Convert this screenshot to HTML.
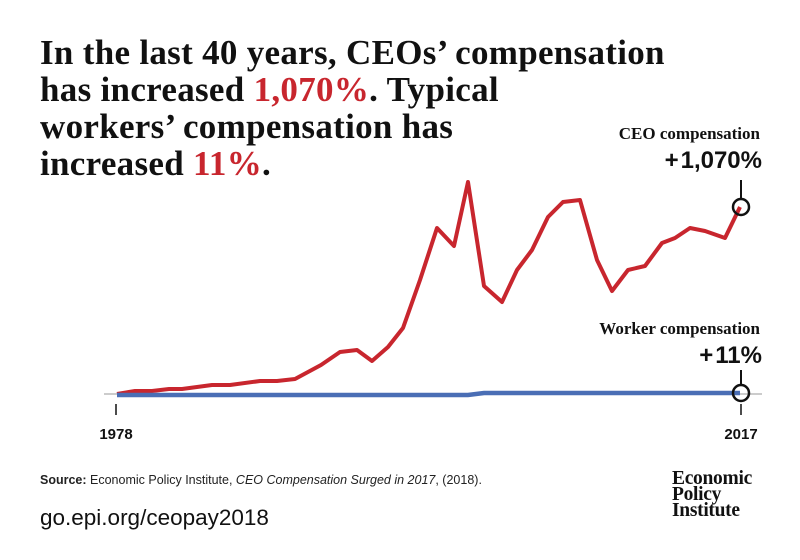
<!DOCTYPE html>
<html><head><meta charset="utf-8"><style>
body{margin:0;width:800px;height:560px;background:#fff;overflow:hidden;position:relative;font-family:"Liberation Sans",sans-serif}
.t{position:absolute;left:40px;top:34px;font-family:"Liberation Serif",serif;font-weight:bold;font-size:35px;line-height:37px;color:#111;letter-spacing:0.3px}
.r{color:#c8262e}
.lab{position:absolute;font-family:"Liberation Serif",serif;font-weight:bold;font-size:17px;color:#111;text-align:right}
.big{position:absolute;font-weight:bold;font-size:24px;color:#111;text-align:right}
</style></head><body>
<div class="t">In the last 40 years, CEOs’ compensation<br>has increased <span class="r">1,070%</span>. Typical<br>workers’ compensation has<br>increased <span class="r">11%</span>.</div>
<div class="lab" style="right:40px;top:124px">CEO compensation</div>
<div class="big" style="right:38px;top:147px">+<span style="margin-left:2px">1,070%</span></div>
<div class="lab" style="right:40px;top:319px">Worker compensation</div>
<div class="big" style="right:38px;top:342px">+<span style="margin-left:2px">11%</span></div>
<svg width="800" height="560" style="position:absolute;left:0;top:0">
<line x1="104" y1="394" x2="762" y2="394" stroke="#ccc" stroke-width="2"/>
<line x1="116" y1="404" x2="116" y2="415" stroke="#111" stroke-width="1.5"/>
<line x1="741" y1="404" x2="741" y2="415" stroke="#111" stroke-width="1.5"/>
<polyline fill="none" stroke="#c8262e" stroke-width="4" stroke-linejoin="round" points="117,394 135,391 152,391 169,389 182,389 212,385 230,385 260,381 277,381 295,379 321,365 340,352 357,350 372,361 388,347 403,328 420,280 437,228 454,246 468,182 484,286 502,302 517,270 532,250 548,217 563,202 580,200 597,260 612,291 628,270 645,266 662,243 675,238 690,228 705,231 725,238 740,207"/>
<polyline fill="none" stroke="#4a6eb5" stroke-width="4.5" points="117,395 468,395 484,393 740,393"/>
<line x1="741" y1="180" x2="741" y2="199" stroke="#111" stroke-width="2"/>
<circle cx="741" cy="207" r="8" fill="none" stroke="#111" stroke-width="2.5"/>
<line x1="741" y1="370" x2="741" y2="385" stroke="#111" stroke-width="2"/>
<circle cx="741" cy="393" r="8" fill="none" stroke="#111" stroke-width="2.5"/>
<text x="116" y="439" text-anchor="middle" font-family="Liberation Sans" font-weight="bold" font-size="15" fill="#111">1978</text>
<text x="741" y="439" text-anchor="middle" font-family="Liberation Sans" font-weight="bold" font-size="15" fill="#111">2017</text>
</svg>
<div style="position:absolute;left:40px;top:473px;font-size:12.5px;color:#222"><b>Source:</b> Economic Policy Institute, <i>CEO Compensation Surged in 2017</i>, (2018).</div>
<div style="position:absolute;left:40px;top:505px;font-size:22.5px;color:#111">go.epi.org/ceopay2018</div>
<div style="position:absolute;left:672px;top:471px;font-family:'Liberation Serif',serif;font-weight:bold;font-size:19.5px;line-height:16px;color:#111;letter-spacing:-0.3px">Economic<br>Policy<br>Institute</div>
</body></html>
